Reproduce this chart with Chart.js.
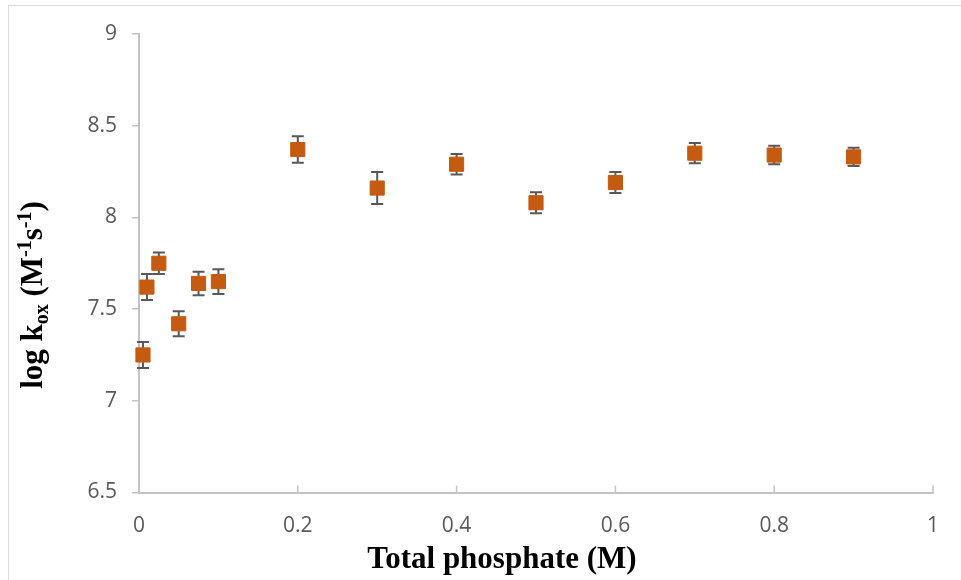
<!DOCTYPE html>
<html>
<head>
<meta charset="utf-8">
<script src="https://cdn.jsdelivr.net/npm/chart.js@4"></script>
<style>
  body { margin: 0; background: #fff; }
  #wrap { position: relative; width: 961px; height: 580px; overflow: hidden; }
  #frame { position: absolute; left: 8px; top: 5px; width: 1000px; height: 640px; border: 1.5px solid #d9d9d9; pointer-events: none; }
</style>
</head>
<body>
<div id="wrap">
  <canvas id="chart" width="961" height="580"></canvas>
  <div id="frame"></div>
</div>
<script>
// data
const phosphate = [0.005, 0.01, 0.025, 0.05, 0.075, 0.1, 0.2, 0.3, 0.4, 0.5, 0.6, 0.7, 0.8, 0.9];
const logKox = [7.25, 7.62, 7.75, 7.42, 7.64, 7.65, 8.37, 8.16, 8.29, 8.08, 8.19, 8.35, 8.34, 8.33];
const errors = [0.071, 0.071, 0.059, 0.068, 0.064, 0.067, 0.072, 0.087, 0.056, 0.057, 0.057, 0.055, 0.05, 0.05];

const tickFont = { family: 'Open Sans', size: 21 };
const tickColor = '#595959';
const axisColor = '#c4c4c4';

// plain number labels: 9, 8.5, 0.2, 1
const plain = v => String(Math.round(v * 10) / 10);

// error bars, drawn behind the markers
const errorBars = {
  id: 'errorBars',
  beforeDatasetsDraw(chart) {
    const ctx = chart.ctx;
    const x = chart.scales.x, y = chart.scales.y;
    ctx.save();
    ctx.strokeStyle = '#595959';
    ctx.lineWidth = 2;
    phosphate.forEach((p, i) => {
      const px = x.getPixelForValue(p);
      const top = y.getPixelForValue(logKox[i] + errors[i]);
      const bot = y.getPixelForValue(logKox[i] - errors[i]);
      ctx.beginPath();
      ctx.moveTo(px, top); ctx.lineTo(px, bot);
      ctx.moveTo(px - 6, top); ctx.lineTo(px + 6, top);
      ctx.moveTo(px - 6, bot); ctx.lineTo(px + 6, bot);
      ctx.stroke();
    });
    ctx.restore();
  }
};

// x ticks point up into the plot, plus the two axis titles
const extras = {
  id: 'extras',
  afterDraw(chart) {
    const ctx = chart.ctx;
    const x = chart.scales.x;
    const area = chart.chartArea;
    ctx.save();
    ctx.strokeStyle = axisColor;
    ctx.lineWidth = 1.5;
    x.ticks.forEach(t => {
      const px = x.getPixelForValue(t.value);
      ctx.beginPath();
      ctx.moveTo(px, area.bottom);
      ctx.lineTo(px, area.bottom - 7);
      ctx.stroke();
    });

    ctx.fillStyle = '#000';
    ctx.textBaseline = 'alphabetic';
    ctx.font = 'bold 31px "Liberation Serif"';
    ctx.textAlign = 'center';
    ctx.fillText('Total phosphate (M)', 502, 568);

    // y title with subscript / superscripts
    const big = 'bold 31px "Liberation Serif"';
    const small = 'bold 20px "Liberation Serif"';
    const parts = [
      { t: 'log k', f: big, dy: 0 },
      { t: 'ox', f: small, dy: 6 },
      { t: ' (M', f: big, dy: 0 },
      { t: '-1', f: small, dy: -11 },
      { t: 's', f: big, dy: 0 },
      { t: '-1', f: small, dy: -11 },
      { t: ')', f: big, dy: 0 }
    ];
    ctx.textAlign = 'left';
    let total = 0;
    parts.forEach(p => { ctx.font = p.f; p.w = ctx.measureText(p.t).width; total += p.w; });
    ctx.translate(42, 295);
    ctx.rotate(-Math.PI / 2);
    let cx = -total / 2;
    parts.forEach(p => {
      ctx.font = p.f;
      ctx.fillText(p.t, cx, p.dy);
      cx += p.w;
    });
    ctx.restore();
  }
};

new Chart(document.getElementById('chart'), {
  type: 'scatter',
  data: {
    datasets: [{
      data: phosphate.map((p, i) => ({ x: p, y: logKox[i] })),
      pointStyle: 'rect',
      pointRadius: 10,
      pointHoverRadius: 10,
      backgroundColor: '#c55a11',
      borderColor: '#c55a11',
      borderWidth: 1,
      clip: false
    }]
  },
  options: {
    responsive: false,
    animation: false,
    events: [],
    layout: { padding: { left: 0, top: 34, right: 28, bottom: 0 } },
    plugins: { legend: { display: false }, tooltip: { enabled: false } },
    scales: {
      x: {
        type: 'linear',
        min: 0, max: 1,
        ticks: { stepSize: 0.2, font: tickFont, color: tickColor, padding: 21, maxRotation: 0, callback: plain },
        grid: { display: true, drawOnChartArea: false, drawTicks: false, color: axisColor },
        border: { color: axisColor, width: 2 },
        afterFit(s) { s.height = 87.5; s.paddingLeft = 0; s.paddingRight = 0; }
      },
      y: {
        min: 6.5, max: 9,
        ticks: { stepSize: 0.5, font: tickFont, color: tickColor, padding: 15, callback: plain },
        grid: { drawOnChartArea: false, drawTicks: true, tickLength: 7, color: axisColor, lineWidth: 1.5 },
        border: { color: axisColor, width: 2 },
        afterFit(s) { s.width = 139; s.paddingTop = 0; s.paddingBottom = 0; }
      }
    }
  },
  plugins: [errorBars, extras]
});
</script>
</body>
</html>
